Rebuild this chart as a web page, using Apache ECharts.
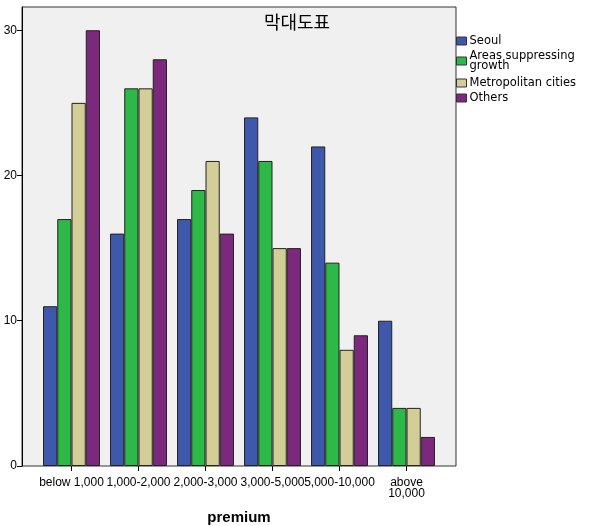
<!DOCTYPE html>
<html>
<head>
<meta charset="utf-8">
<script src="https://cdn.jsdelivr.net/npm/echarts@6/dist/echarts.min.js"></script>
<style>html,body{margin:0;padding:0;background:#fff}#c{width:606px;height:526px}</style>
</head>
<body>
<div id="c"></div>
<script>
const categories = ['below 1,000', '1,000-2,000', '2,000-3,000', '3,000-5,000', '5,000-10,000', 'above\n10,000'];
const seoul = [11, 16, 17, 24, 22, 10];
const areasSuppressing = [17, 26, 19, 21, 14, 4];
const metropolitan = [25, 26, 21, 15, 8, 4];
const others = [30, 28, 16, 15, 9, 2];
const yTicks = [0, 10, 20, 30];
const seriesNames = ['Seoul', 'Areas suppressing growth', 'Metropolitan cities', 'Others'];
const seriesData = [seoul, areasSuppressing, metropolitan, others];
const colors = ['#3e58ac', '#2eb848', '#d3ce97', '#7c287d'];

const font = '"Liberation Sans", Arial, sans-serif';
const legendFont = '"DejaVu Sans", sans-serif';
const chart = echarts.init(document.getElementById('c'), null, {renderer: 'canvas'});
const legendTops = [35, 50, 77, 92];
const yMax = 31.6;

chart.setOption({
  animation: false,
  backgroundColor: '#ffffff',
  title: {
    text: '막대도표',
    left: 292, top: 8, textAlign: 'center',
    textStyle: {fontFamily: '"Noto Sans CJK KR", sans-serif', fontSize: 18, fontWeight: 'normal', color: '#000'}
  },
  legend: seriesNames.map((n, i) => ({
    data: [n], left: 456, top: legendTops[i], orient: 'vertical',
    itemWidth: 10, itemHeight: 8, itemGap: 0, padding: 0,
    icon: 'rect',
    formatter: name => name === 'Areas suppressing growth' ? 'Areas suppressing\ngrowth' : name,
    textStyle: {fontFamily: legendFont, fontSize: 11.5, color: '#000', lineHeight: 10, padding: [0,0,0,-2]},
    itemStyle: {borderColor: '#333', borderWidth: 1}
  })),
  grid: [
    {left: 22, top: 7, width: 434, height: 459, show: true, backgroundColor: '#f0f0f0', borderColor: '#333', borderWidth: 1, containLabel: false, outerBoundsMode: 'none'},
    {left: 38, top: 7, width: 402, height: 459, containLabel: false, outerBoundsMode: 'none'}
  ],
  xAxis: [
    {gridIndex: 0, type: 'value', min: 0, max: 1, show: false},
    {
      gridIndex: 1, type: 'category', data: categories,
      name: 'premium', nameLocation: 'middle', nameGap: 44,
      nameTextStyle: {fontFamily: font, fontSize: 15, fontWeight: 'bold', color: '#000'},
      axisLine: {show: false},
      axisTick: {show: true, alignWithLabel: true, length: 5, lineStyle: {color: '#000'}},
      axisLabel: {interval: 0, margin: 11, fontFamily: font, fontSize: 12, color: '#000', lineHeight: 11, align: 'center'}
    }
  ],
  yAxis: [
    {
      gridIndex: 0, type: 'value', min: 0, max: yMax, interval: 10,
      splitLine: {show: false},
      axisLine: {show: true, lineStyle: {color: '#000'}},
      axisTick: {show: true, length: 5, lineStyle: {color: '#000'}, customValues: yTicks},
      axisLabel: {margin: 5, fontFamily: font, fontSize: 12, color: '#000', customValues: yTicks}
    },
    {gridIndex: 1, type: 'value', min: 0, max: yMax, show: false, splitLine: {show: false}}
  ],
  series: seriesNames.map((n, i) => ({
    name: n, type: 'bar', xAxisIndex: 1, yAxisIndex: 1,
    data: seriesData[i],
    barGap: '0%', barCategoryGap: '15%',
    itemStyle: {color: colors[i], borderColor: '#222', borderWidth: 1}
  }))
});
</script>
</body>
</html>
